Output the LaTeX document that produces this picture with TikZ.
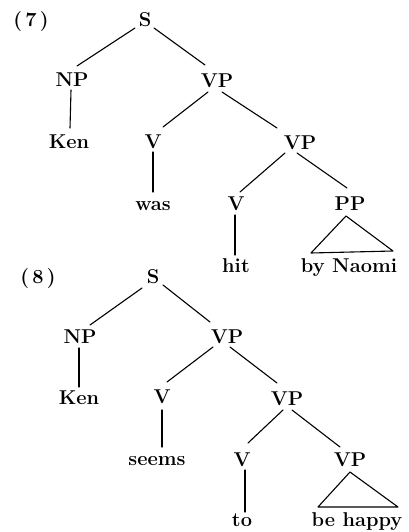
\documentclass[tikz,border=0pt]{standalone}
\usepackage{fontspec}
\usetikzlibrary{calc}
\begin{document}
\begin{tikzpicture}[x=1pt,y=-1pt,
  lab/.style={inner sep=0pt, anchor=base, font=\fontsize{20}{24}\selectfont\bfseries},
  edge/.style={line width=1.1pt, line cap=round, line join=round}]
\useasboundingbox (0,0) rectangle (409,532);
% ---------- tree (7) ----------
\node[lab] (n7) at (31,27) {(\,7\,)};
\node[lab] (s1) at (145,27) {S};
\node[lab] (np1) at (72,87) {NP};
\node[lab] (vp1) at (217,88) {VP};
\node[lab] (ken1) at (69,148) {Ken};
\node[lab] (v1) at (153,148) {V};
\node[lab] (vp2) at (300,149) {VP};
\node[lab] (was) at (153,210) {was};
\node[lab] (v2) at (236,210) {V};
\node[lab] (pp) at (350,210) {PP};
\node[lab] (hit) at (236,272) {hit};
\node[lab] (naomi) at (349,272) {by Naomi};
\draw[edge] ($(s1.base)+(-10,1)$) -- ($(np1.base)+(5,-21)$);
\draw[edge] ($(s1.base)+(9,1)$) -- ($(vp1.base)+(-12,-23)$);
\draw[edge] ($(np1.base)+(-1,3)$) -- ($(ken1.base)+(1,-20)$);
\draw[edge] ($(vp1.base)+(-9,4)$) -- ($(v1.base)+(10,-21)$);
\draw[edge] ($(vp1.base)+(5,4)$) -- ($(vp2.base)+(-23,-21)$);
\draw[edge] ($(v1.base)+(0,4)$) -- ($(was.base)+(0,-18)$);
\draw[edge] ($(vp2.base)+(-15,4)$) -- ($(v2.base)+(4,-18)$);
\draw[edge] ($(vp2.base)+(-3,4)$) -- ($(pp.base)+(-3,-22)$);
\draw[edge] ($(v2.base)+(-1,5)$) -- ($(hit.base)+(-1,-17)$);
\draw[edge] ($(pp.base)+(-4,6)$) -- ($(naomi.base)+(-38,-19)$) -- ($(naomi.base)+(44,-21)$) -- cycle;
% ---------- tree (8) ----------
\node[lab] (n8) at (38,283) {(\,8\,)};
\node[lab] (s2) at (153,283) {S};
\node[lab] (np2) at (80,343) {NP};
\node[lab] (vp3) at (227,343) {VP};
\node[lab] (ken2) at (79,404) {Ken};
\node[lab] (v3) at (162,403) {V};
\node[lab] (vp4) at (287,405) {VP};
\node[lab] (seems) at (157,465) {seems};
\node[lab] (v4) at (242,466) {V};
\node[lab] (vp5) at (350,466) {VP};
\node[lab] (to) at (242,526) {to};
\node[lab] (happy) at (357,526) {be happy};
\draw[edge] ($(s2.base)+(-11,5)$) -- ($(np2.base)+(10,-18)$);
\draw[edge] ($(s2.base)+(10,2)$) -- ($(vp3.base)+(-17,-21)$);
\draw[edge] ($(np2.base)+(-1,5)$) -- ($(ken2.base)+(0,-17)$);
\draw[edge] ($(vp3.base)+(-14,4)$) -- ($(v3.base)+(5,-21)$);
\draw[edge] ($(vp3.base)+(3,4)$) -- ($(vp4.base)+(-10,-22)$);
\draw[edge] ($(v3.base)+(0,7)$) -- ($(seems.base)+(5,-18)$);
\draw[edge] ($(vp4.base)+(-4,5)$) -- ($(v4.base)+(6,-23)$);
\draw[edge] ($(vp4.base)+(5,5)$) -- ($(vp5.base)+(-10,-19)$);
\draw[edge] ($(v4.base)+(3,4)$) -- ($(to.base)+(3,-14)$);
\draw[edge] ($(vp5.base)+(0,6)$) -- ($(happy.base)+(-39,-19)$) -- ($(happy.base)+(41,-19)$) -- cycle;
\end{tikzpicture}
\end{document}
